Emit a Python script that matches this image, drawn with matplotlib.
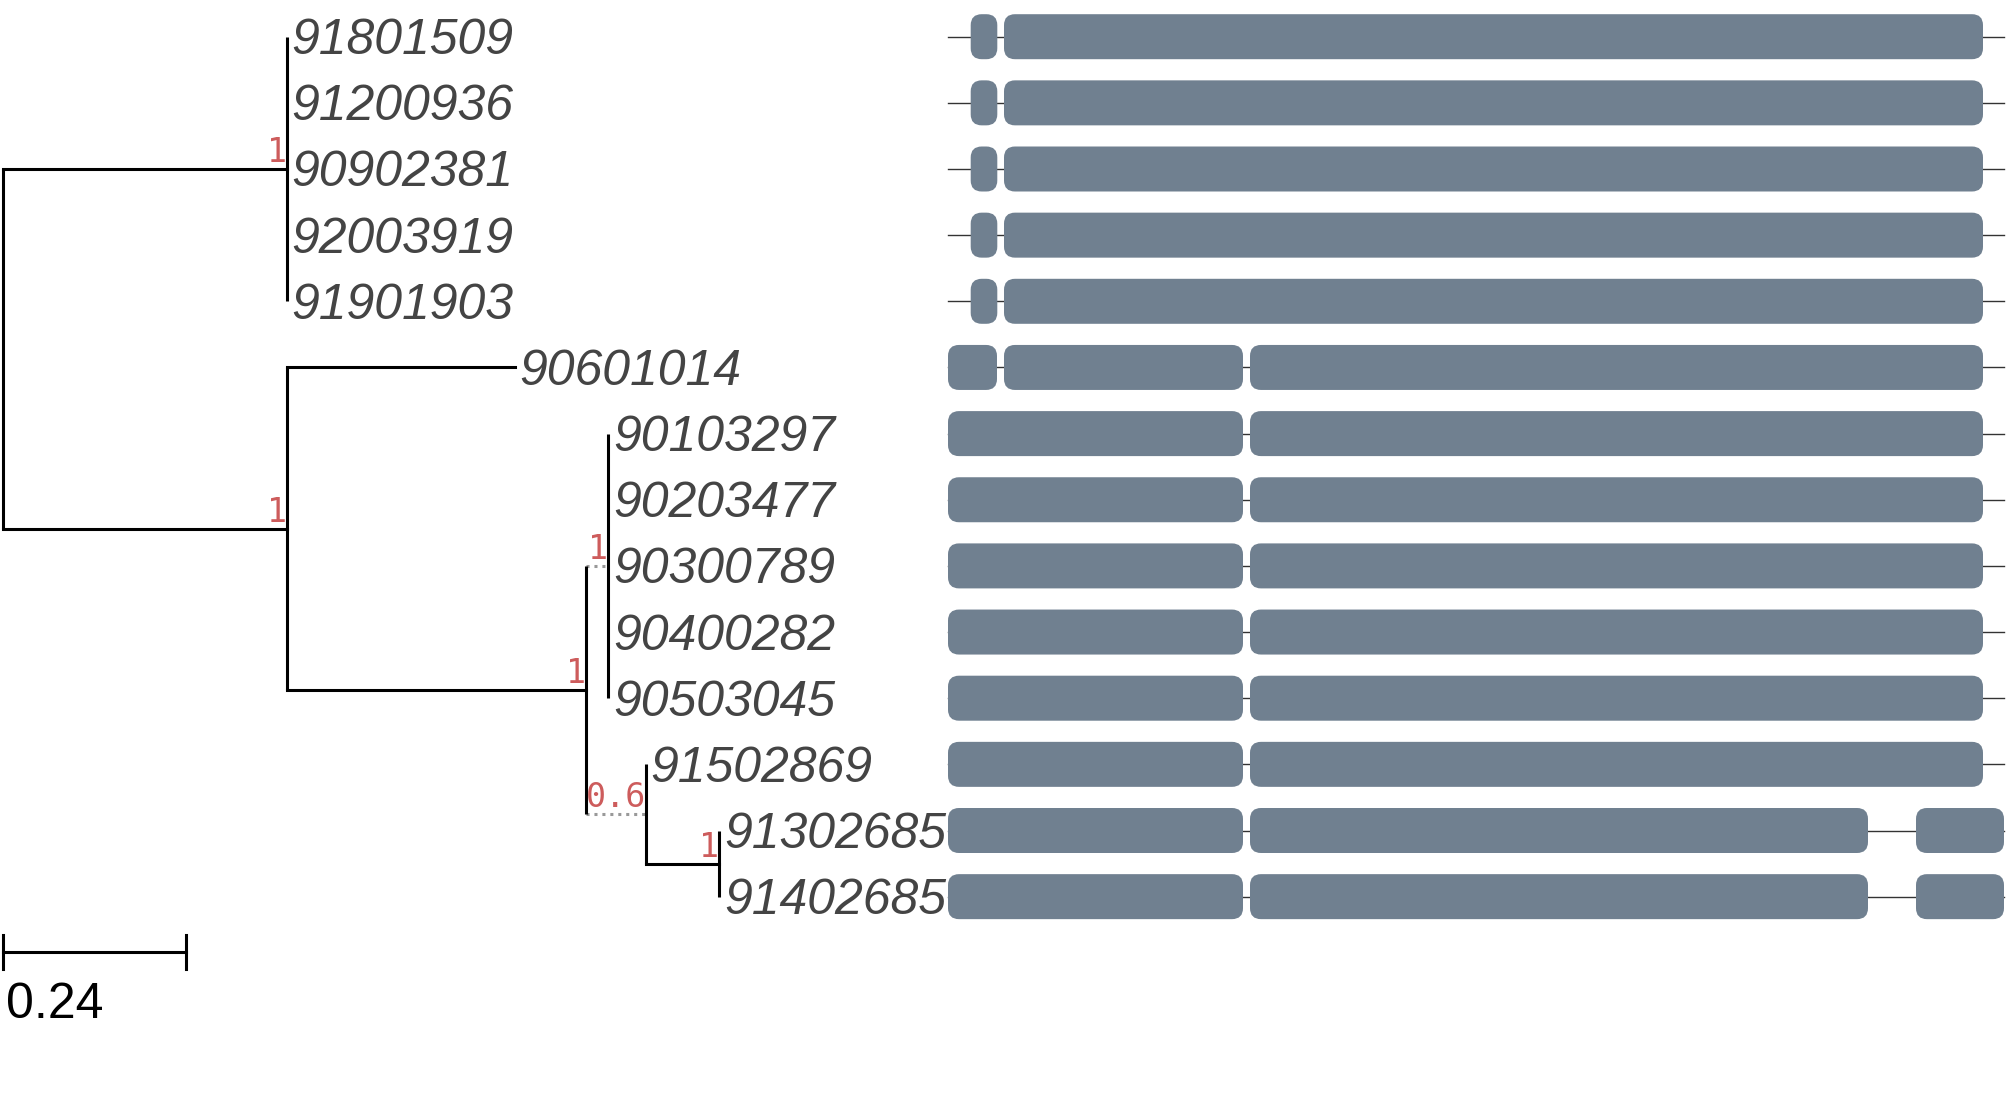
import matplotlib
matplotlib.use('Agg')
import matplotlib.pyplot as plt
import matplotlib.transforms as mtransforms
from matplotlib.patches import FancyBboxPatch

# tips, top to bottom
tip_labels = ['91801509', '91200936', '90902381', '92003919', '91901903',
              '90601014', '90103297', '90203477', '90300789', '90400282',
              '90503045', '91502869', '91302685', '91402685']

# tree: node -> parent, branch length
node_names = ['A', 'B', 'C', 'D', 'E', 'F'] + tip_labels
node_parents = ['root', 'root', 'B', 'C', 'C', 'E',
                'A', 'A', 'A', 'A', 'A',
                'B', 'D', 'D', 'D', 'D', 'D',
                'E', 'F', 'F']
branch_lengths = [0.372, 0.372, 0.393, 0.029, 0.078, 0.096,
                  0, 0, 0, 0, 0,
                  0.299, 0, 0, 0, 0, 0,
                  0, 0, 0]
support_nodes = ['A', 'B', 'C', 'D', 'E', 'F']
support_values = ['1', '1', '1', '1', '0.6', '1']
dotted_branches = ['D', 'E']
scale_value = 0.24

# gene structures (exon start, end)
gene_length = 1056
exons_short_first = [(22.7, 49.3), (56, 1035)]
exons_three = [(0, 49), (56, 295), (302, 1035)]
exons_two = [(0, 295), (302, 1035)]
exons_split_end = [(0, 295), (302, 920), (968, 1056)]
row_exons = [exons_short_first] * 5 + [exons_three] + [exons_two] * 6 + [exons_split_end] * 2

W, H = 2007, 1117
fig = plt.figure(figsize=(W / 100, H / 100), dpi=100)

px_per_unit = 762.5
x0_px = 3
row_px = 66.15
top_px = 36.7
ylim = ((H - top_px) / row_px, -top_px / row_px)

ax = fig.add_axes([0, 0, 1, 1])
ax.set_xlim(-x0_px / px_per_unit, (W - x0_px) / px_per_unit)
ax.set_ylim(*ylim)
ax.axis('off')

# layout of tree
parent = dict(zip(node_names, node_parents))
blen = dict(zip(node_names, branch_lengths))
children = {}
for n in node_names:
    children.setdefault(parent[n], []).append(n)

xpos = {'root': 0.0}
def set_x(n):
    for c in children.get(n, []):
        xpos[c] = xpos[n] + blen[c]
        set_x(c)
set_x('root')

ypos = {t: i for i, t in enumerate(tip_labels)}
def set_y(n):
    if n in ypos:
        return ypos[n]
    ys = [set_y(c) for c in children[n]]
    ypos[n] = sum(ys) / len(ys)
    return ypos[n]
set_y('root')

lw = 2.2
for n in node_names:
    x1, x2 = xpos[parent[n]], xpos[n]
    if x2 - x1 <= 0:
        continue
    if n in dotted_branches:
        ax.plot([x1, x2], [ypos[n], ypos[n]], color='#999999', lw=lw,
                linestyle=(0, (1, 1.6)), zorder=1)
    else:
        ax.plot([x1, x2], [ypos[n], ypos[n]], color='black', lw=lw,
                solid_capstyle='projecting', zorder=2)

for n, ch in children.items():
    ys = [ypos[c] for c in ch]
    ax.plot([xpos[n], xpos[n]], [min(ys), max(ys)], color='black', lw=lw,
            solid_capstyle='butt', zorder=2)

for n, s in zip(support_nodes, support_values):
    ax.text(xpos[n], ypos[n], s, ha='right', va='bottom', color='#cd5c5c',
            fontsize=24, family='DejaVu Sans Mono', zorder=3)

label_tr = mtransforms.offset_copy(ax.transData, fig=fig, x=5, y=-17.5, units='dots')
for t in tip_labels:
    ax.text(xpos[t], ypos[t], t, transform=label_tr, ha='left', va='baseline',
            fontsize=36, style='italic', family='Liberation Sans', color='#444444')

# scale bar
sb_y = (952 - top_px) / row_px
tick = 17 / row_px
ax.plot([0, scale_value], [sb_y, sb_y], color='black', lw=lw)
ax.plot([0, 0], [sb_y - tick, sb_y + tick], color='black', lw=lw)
ax.plot([scale_value, scale_value], [sb_y - tick, sb_y + tick], color='black', lw=lw)
sb_tr = mtransforms.offset_copy(ax.transData, fig=fig, x=3, y=0, units='dots')
ax.text(0, (1018 - top_px) / row_px, str(scale_value), transform=sb_tr,
        ha='left', va='baseline', fontsize=36, family='Liberation Sans', color='black')

# gene structure panel
gx = fig.add_axes([0, 0, 1, 1])
gx.set_xlim(-948, W - 948)
gx.set_ylim(*ylim)
gx.axis('off')
gx.patch.set_visible(False)

m_aspect = (abs(ylim[0] - ylim[1]) / H) / (W / W)
bar_h = 45 / row_px
for i, exons in enumerate(row_exons):
    gx.plot([0, gene_length], [i, i], color='#333333', lw=1.0, zorder=1)
    for s, e in exons:
        gx.add_patch(FancyBboxPatch((s, i - bar_h / 2), e - s, bar_h,
                                    boxstyle='round,pad=0,rounding_size=11',
                                    mutation_aspect=m_aspect,
                                    fc='#708090', ec='none', zorder=2))

fig.savefig('out.png', dpi=100)
